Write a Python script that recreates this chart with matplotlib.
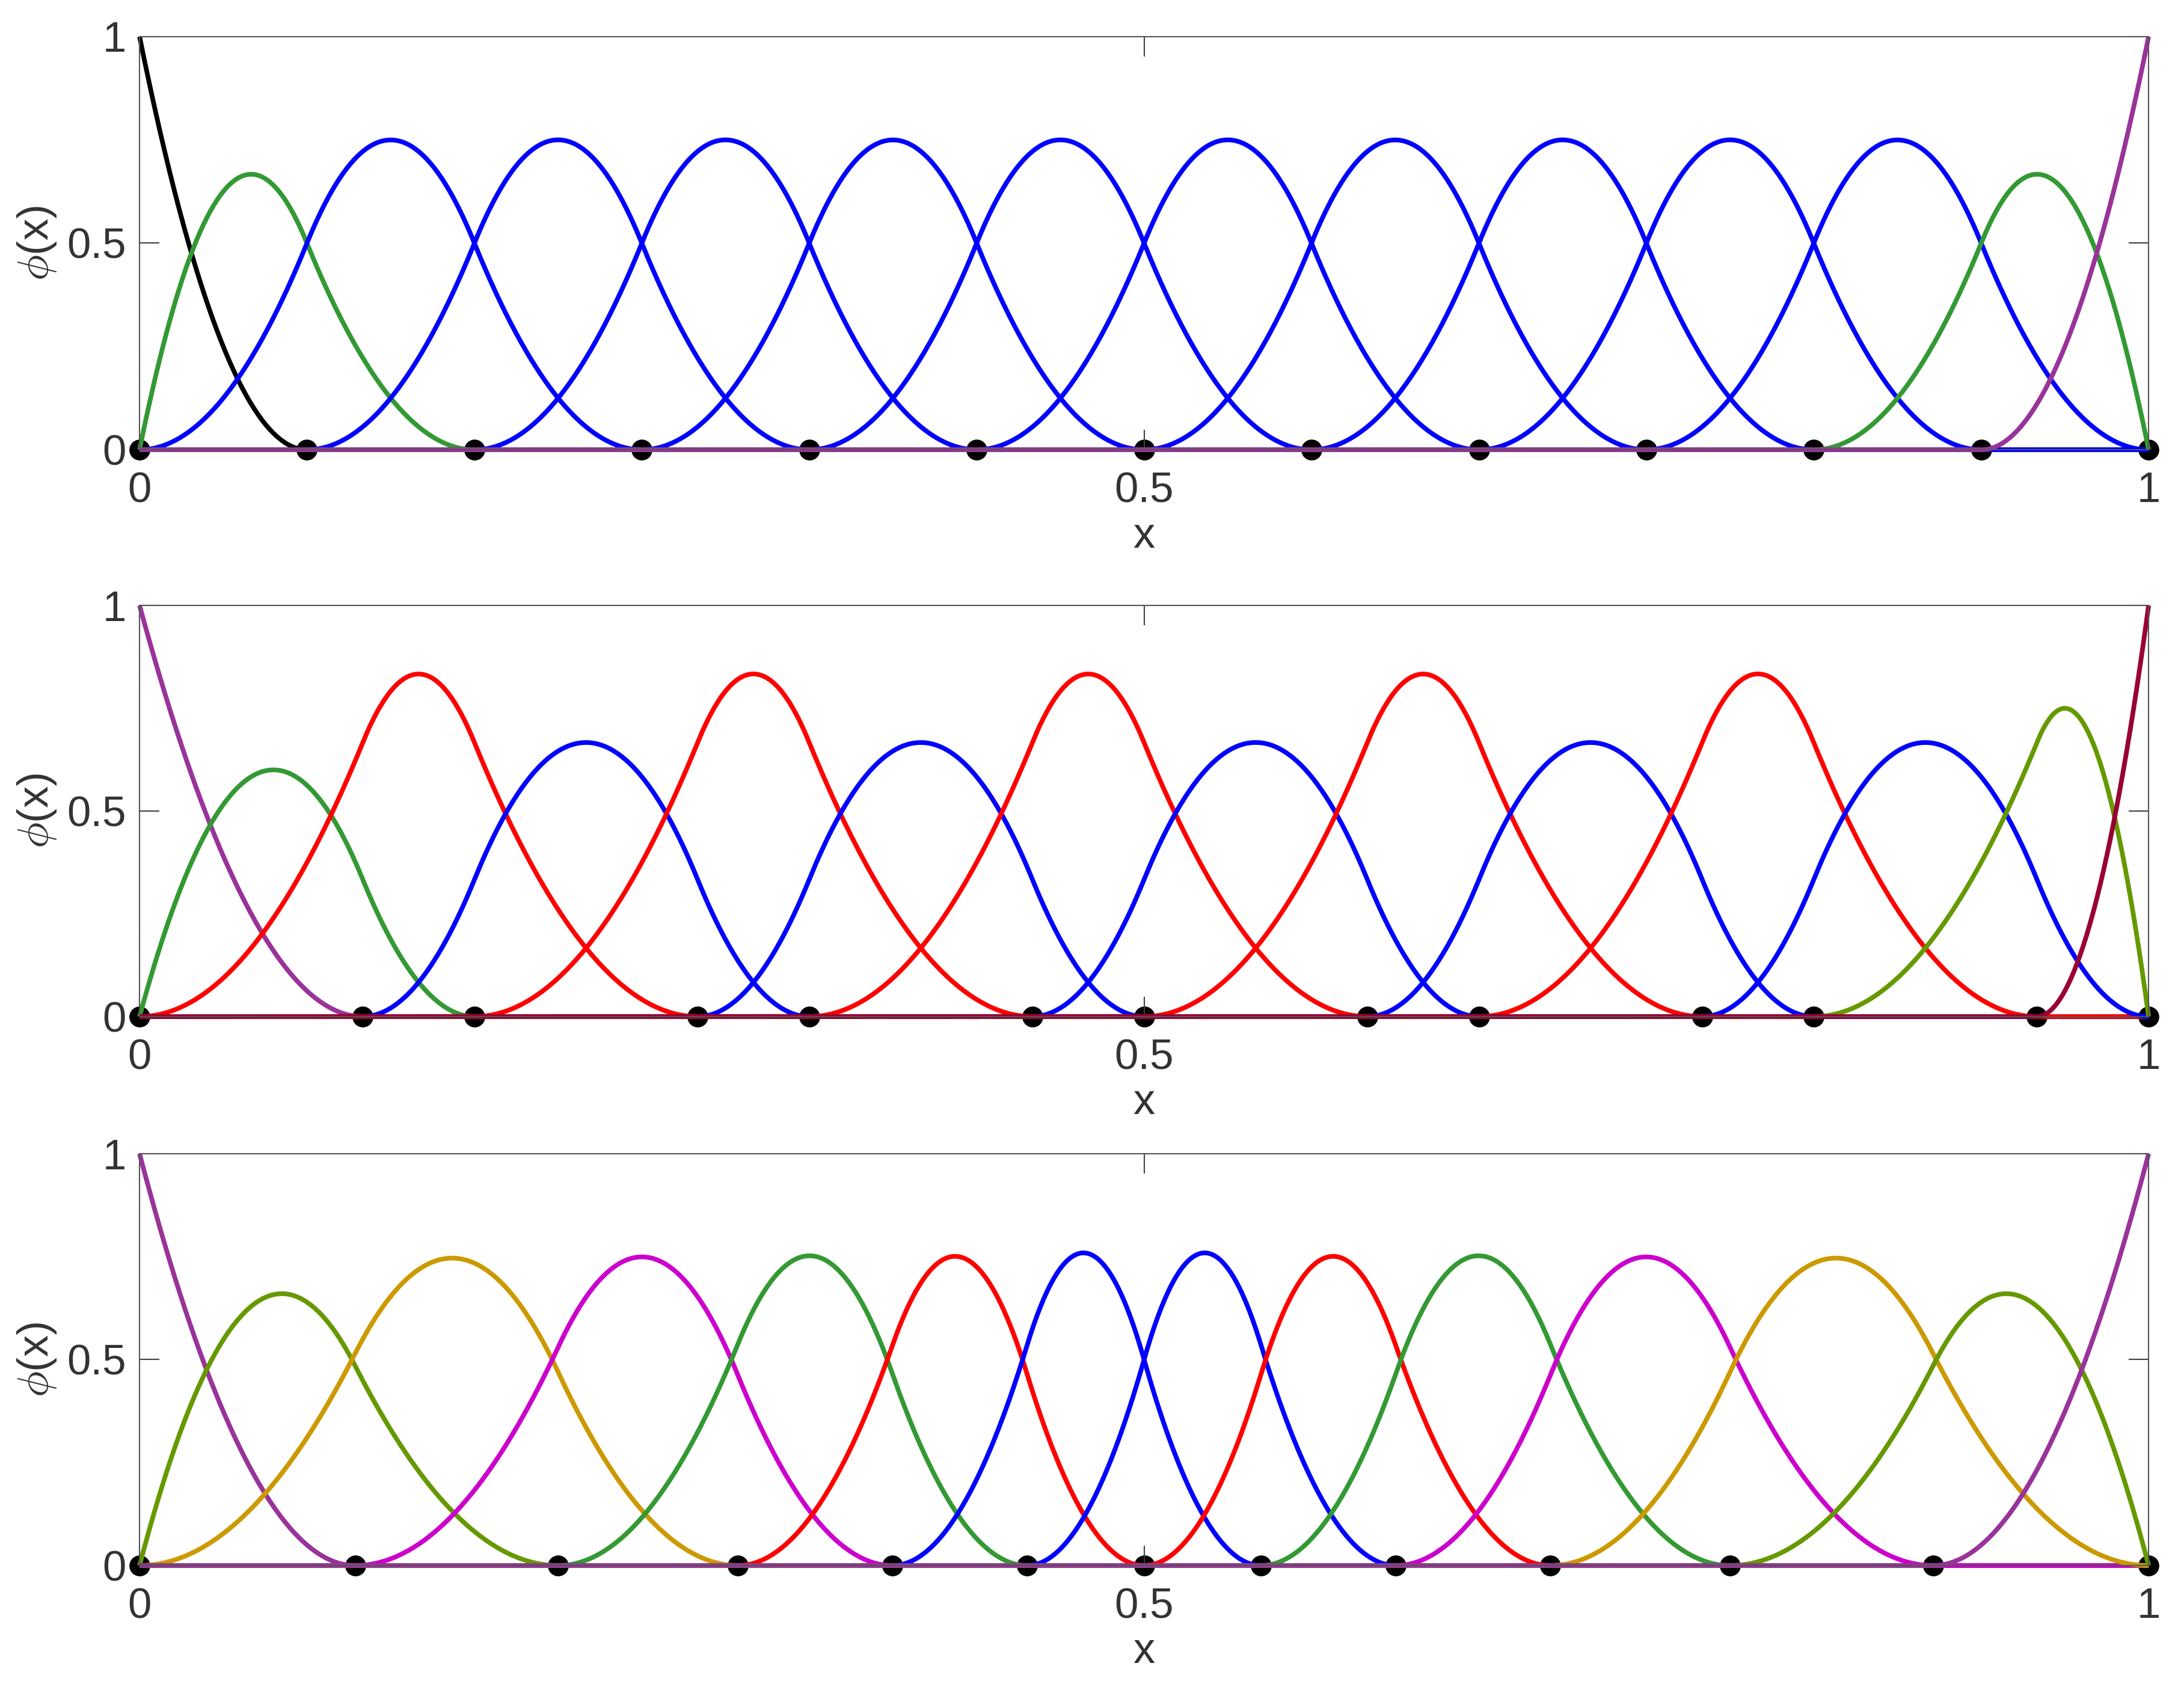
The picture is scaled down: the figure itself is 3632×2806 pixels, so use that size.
import numpy as np
import matplotlib
matplotlib.use("Agg")
import matplotlib.pyplot as plt

# ---- data: knot locations ----
knots_uniform = [0.0, 0.0833, 0.1667, 0.25, 0.3333, 0.4167, 0.5,
                 0.5833, 0.6667, 0.75, 0.8333, 0.9167, 1.0]
knots_paired = [0.0, 0.1111, 0.1667, 0.2778, 0.3333, 0.4444, 0.5,
                0.6111, 0.6667, 0.7778, 0.8333, 0.9444, 1.0]
knots_graded = [0.0, 0.1073, 0.2084, 0.2978, 0.3747, 0.4418, 0.5,
                0.5582, 0.6253, 0.7022, 0.7916, 0.8927, 1.0]
degree = 2

colors_1 = ['#000000', '#339933'] + ['#0000FF'] * 10 + ['#339933', '#993399']
colors_2 = ['#993399', '#339933', '#FF0000', '#0000FF', '#FF0000', '#0000FF',
            '#FF0000', '#0000FF', '#FF0000', '#0000FF', '#FF0000', '#0000FF',
            '#669900', '#990033']
colors_3 = ['#993399', '#669900', '#CC9900', '#CC00CC', '#339933', '#FF0000',
            '#0000FF', '#0000FF', '#FF0000', '#339933', '#CC00CC', '#CC9900',
            '#669900', '#993399']

xticks = [0, 0.5, 1]
xticklabels = ['0', '0.5', '1']
yticks = [0, 0.5, 1]
yticklabels = ['0', '0.5', '1']


def basis(knots, p, x):
    t = np.r_[[knots[0]] * p, knots, [knots[-1]] * p]
    n = len(t) - 1
    B = np.zeros((n, len(x)))
    for i in range(n):
        if t[i] < t[i + 1]:
            B[i] = (x >= t[i]) & (x < t[i + 1])
    # right end point
    last = np.max(np.where(t[:-1] < t[1:])[0])
    B[last, x >= t[-1]] = 1.0
    for k in range(1, p + 1):
        Bn = np.zeros((n - k, len(x)))
        for i in range(n - k):
            a = 0.0
            if t[i + k] > t[i]:
                a = (x - t[i]) / (t[i + k] - t[i]) * B[i]
            b = 0.0
            if t[i + k + 1] > t[i + 1]:
                b = (t[i + k + 1] - x) / (t[i + k + 1] - t[i + 1]) * B[i + 1]
            Bn[i] = a + b
        B = Bn
    return B


plt.rcParams['font.family'] = ['Liberation Sans', 'DejaVu Sans']
plt.rcParams['mathtext.fontset'] = 'cm'

W, H, DPI = 3632, 2806, 200
fig = plt.figure(figsize=(W / DPI, H / DPI), dpi=DPI)

left, right = 0.0639, 0.9838
rows = [(0.7334, 0.9783), (0.3974, 0.6411), (0.0720, 0.3161)]
x = np.linspace(0, 1, 1201)

for (bot, top), knots, cols in zip(rows, [knots_uniform, knots_paired, knots_graded],
                                   [colors_1, colors_2, colors_3]):
    ax = fig.add_axes([left, bot, right - left, top - bot])
    ax.plot(knots, np.zeros(len(knots)), 'o', color='black', markersize=11.5,
            clip_on=False, zorder=1)
    B = basis(knots, degree, x)
    for i in range(B.shape[0]):
        ax.plot(x, B[i], color=cols[i], lw=2.8, clip_on=False, zorder=2,
                solid_capstyle='butt')
    ax.set_xlim(0, 1)
    ax.set_ylim(0, 1)
    ax.set_xticks(xticks)
    ax.set_xticklabels(xticklabels)
    ax.set_yticks(yticks)
    ax.set_yticklabels(yticklabels)
    ax.tick_params(direction='in', length=12, width=0.75, color='#404040',
                   labelsize=25.5, labelcolor='#333333', top=True, right=True)
    ax.tick_params(axis='x', pad=13)
    ax.tick_params(axis='y', pad=8)
    for s in ax.spines.values():
        s.set_color('#555555')
        s.set_linewidth(0.75)
    ax.set_xlabel('x', fontsize=26, color='#333333', labelpad=3)
    ax.set_ylabel(r'$\phi$(x)', fontsize=26, color='#333333', labelpad=5)

fig.savefig('out.png', dpi=DPI)
